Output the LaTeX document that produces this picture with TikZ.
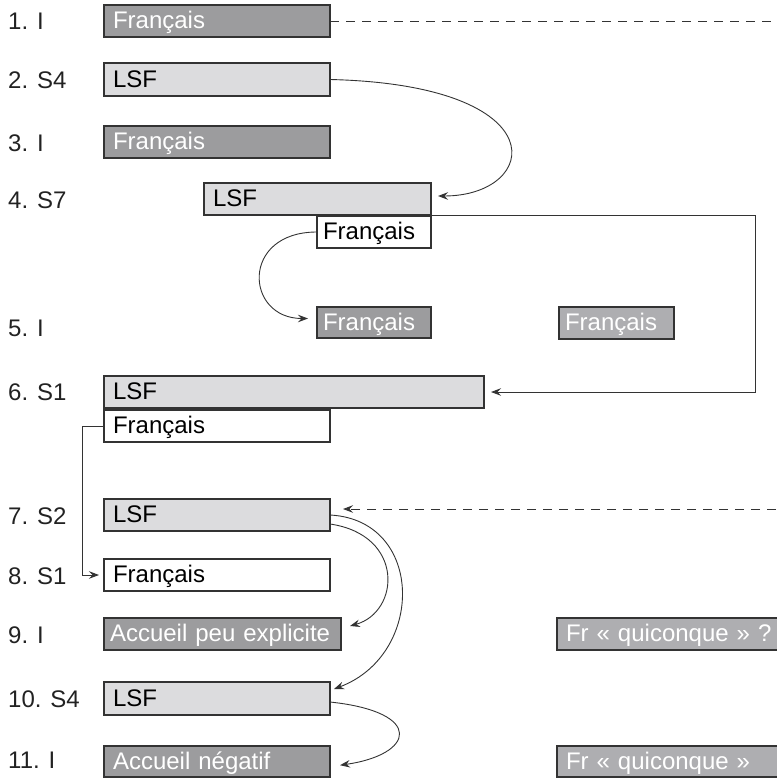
\documentclass[tikz,border=0pt]{standalone}
\usepackage{fontspec}
\setmainfont{Liberation Sans}
\usetikzlibrary{arrows.meta}
\definecolor{dkfill}{HTML}{9C9C9E}
\definecolor{ltfill}{HTML}{DCDCDE}
\definecolor{mdfill}{HTML}{AEAEB1}
\definecolor{edge}{HTML}{333333}
\definecolor{lbltext}{HTML}{222222}
\tikzset{
  bx/.style={draw=edge, line width=1.1pt, rectangle, anchor=north west, outer sep=0pt,
    inner xsep=9pt, inner ysep=0pt, align=left,
    font=\fontsize{24}{28}\selectfont, text height=19.8pt, text depth=4pt},
  dk/.style={bx, fill=dkfill, text=white},
  md/.style={bx, fill=mdfill, text=white},
  lt/.style={bx, fill=ltfill, text=black},
  wt/.style={bx, fill=white, text=black},
  lbl/.style={anchor=west, inner sep=0pt, text=lbltext, font=\fontsize{24}{28}\selectfont},
  conn/.style={draw=edge, line width=0.9pt, -{Stealth[length=10pt,width=7.5pt,inset=3.5pt]}},
  dline/.style={draw=edge, line width=0.9pt, dash pattern=on 9pt off 7pt},
}
\begin{document}
\begin{tikzpicture}[x=1pt,y=-1pt]
\useasboundingbox (0,0) rectangle (776,778);
% boxes: position = top-left corner; width/height given
\node[dk, minimum width=226pt, text width=208pt, minimum height=32pt] (b1) at (104,5) {Français};
\node[lt, minimum width=226pt, text width=208pt, minimum height=33pt] (b2) at (104,63) {LSF};
\node[dk, minimum width=226pt, text width=208pt, minimum height=32pt] (b3) at (104,126) {Français};
\node[lt, minimum width=227pt, text width=209pt, minimum height=32pt] (b4) at (204,183) {LSF};
\node[wt, minimum width=114pt, text width=102pt, minimum height=32pt, inner xsep=6pt] (b4f) at (317,216) {Français};
\node[dk, minimum width=114pt, text width=102pt, minimum height=31pt, inner xsep=6pt] (b5) at (317,307) {Français};
\node[md, minimum width=115pt, text width=103pt, minimum height=32pt, inner xsep=6pt] (b5r) at (559,307) {Français};
\node[lt, minimum width=380pt, text width=362pt, minimum height=32pt] (b6) at (104,376) {LSF};
\node[wt, minimum width=226pt, text width=208pt, minimum height=32pt] (b6f) at (104,410) {Français};
\node[lt, minimum width=226pt, text width=208pt, minimum height=32pt] (b7) at (104,499) {LSF};
\node[wt, minimum width=226pt, text width=208pt, minimum height=32pt] (b8) at (104,559) {Français};
\node[dk, minimum width=237pt, text width=225pt, minimum height=32pt, inner xsep=6pt] (b9) at (104,618) {Accueil peu explicite};
\node[md, minimum width=233pt, text width=215pt, minimum height=32pt] (b9r) at (557,618) {Fr « quiconque » ?};
\node[lt, minimum width=226pt, text width=208pt, minimum height=33pt] (b10) at (104,682) {LSF};
\node[dk, minimum width=226pt, text width=208pt, minimum height=31pt] (b11) at (104,746) {Accueil négatif};
\node[md, minimum width=233pt, text width=215pt, minimum height=31pt] (b11r) at (557,746) {Fr « quiconque »};
% row labels
\node[lbl] (l1) at (8,21) {1. I};
\node[lbl] (l2) at (8,80) {2. S4};
\node[lbl] (l3) at (8,143) {3. I};
\node[lbl] (l4) at (8,200) {4. S7};
\node[lbl] (l5) at (8,328) {5. I};
\node[lbl] (l6) at (8,392) {6. S1};
\node[lbl] (l7) at (8,516) {7. S2};
\node[lbl] (l8) at (8,576) {8. S1};
\node[lbl] (l9) at (8,635) {9. I};
\node[lbl] (l10) at (8,699) {10. S4};
\node[lbl] (l11) at (8,760) {11. I};
% free ends
\coordinate (r1) at (776,21);
\coordinate (r7) at (776,509);
\coordinate (c3) at (755,215);
% connectors
\draw[dline] (b1.east) -- (r1);
\draw[conn] (b2.east) .. controls +(230,5.5) and +(102,0) .. ([shift={(7,-3)}]b4.east);
\draw[conn] (b4.south east) -- (c3) |- ([xshift=7pt]b6.east);
\draw[conn] (b4f.west) .. controls +(-77,0) and +(-63,0) .. ([shift={(-9,-4)}]b5.west);
\draw[conn] (b6f.west) -- ++(-22,0) |- ([xshift=-5pt]b8.west);
\draw[dline, -{Stealth[length=10pt,width=7.5pt,inset=3.5pt]}] (r7) -- ([shift={(13,-6)}]b7.east);
\draw[conn] (b7.east) .. controls +(95,5) and +(91,-34) .. ([shift={(4,-9.5)}]b10.east);
\draw[conn] ([shift={(0,9)}]b7.east) .. controls +(75,11) and +(50,-14) .. ([shift={(9,-8)}]b9.east);
\draw[conn] ([shift={(0,3.5)}]b10.east) .. controls +(95,10) and +(75,-10.7) .. ([shift={(10,3.7)}]b11.east);
\end{tikzpicture}
\end{document}
